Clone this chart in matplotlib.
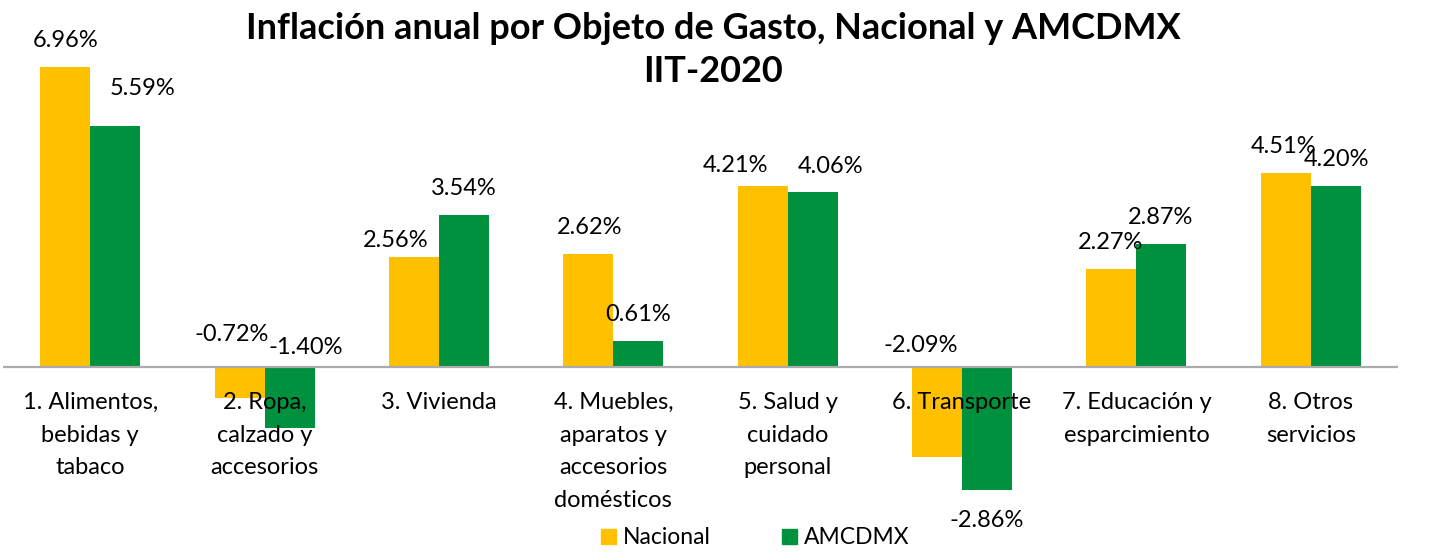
import matplotlib
matplotlib.use("Agg")
import matplotlib.pyplot as plt
from matplotlib.patches import Patch
import numpy as np

plt.rcParams["font.family"] = ["Lato", "DejaVu Sans"]

# data
categories = [
    "1. Alimentos,\nbebidas y\ntabaco",
    "2. Ropa,\ncalzado y\naccesorios",
    "3. Vivienda",
    "4. Muebles,\naparatos y\naccesorios\ndomésticos",
    "5. Salud y\ncuidado\npersonal",
    "6. Transporte",
    "7. Educación y\nesparcimiento",
    "8. Otros\nservicios",
]
nacional = [6.96, -0.72, 2.56, 2.62, 4.21, -2.09, 2.27, 4.51]
amcdmx = [5.59, -1.40, 3.54, 0.61, 4.06, -2.86, 2.87, 4.20]
series_names = ["Nacional", "AMCDMX"]
title = "Inflación anual por Objeto de Gasto, Nacional y AMCDMX\nIIT-2020"

# label offsets (pixels) from each bar tip, as placed in the original
off_nac = [(0, 27), (-8, 64), (-18, 16), (1, 27), (-27, 20), (-16, 112), (-1, 27), (-2, 26)]
off_amc = [(27, 38), (16, 80), (0, 26), (0, 26), (18, 26), (0, -30), (-1, 26), (1, 27)]

YELLOW = "#FFC000"
GREEN = "#00913F"

W, H = 1434, 555
fig = plt.figure(figsize=(W / 100, H / 100), dpi=100)
ax = fig.add_axes([3 / W, (H - 518) / H, 1395 / W, 474 / H])

x = np.arange(len(categories))
bw = 0.2867
ax.bar(x - bw / 2, nacional, width=bw, color=YELLOW, zorder=1)
ax.bar(x + bw / 2, amcdmx, width=bw, color=GREEN, zorder=1)
ax.axhline(0, color="#ABABAB", lw=1.6, zorder=2)

for vals, offs, xs in [(nacional, off_nac, x - bw / 2), (amcdmx, off_amc, x + bw / 2)]:
    for xi, v, (dx, dy) in zip(xs, vals, offs):
        ax.annotate(f"{v:.2f}%", xy=(xi, v), xytext=(dx, dy), textcoords="offset pixels",
                    ha="center", va="center", fontsize=17, color="#000000")

# category names hang from the zero line
for xi, cat in zip(x, categories):
    ax.annotate(cat, xy=(xi, 0), xytext=(0, -25), textcoords="offset pixels",
                ha="center", va="top", fontsize=17, linespacing=1.68, zorder=4,
                annotation_clip=False)

ax.set_xlim(-0.5, len(categories) - 0.5)
ax.set_ylim(-3.5, 7.5)
ax.set_xticks([])
ax.set_yticks([])
for s in ax.spines.values():
    s.set_visible(False)
ax.patch.set_visible(False)

fig.text(713 / W, 1 - 50 / H, title, ha="center", va="center", fontsize=26,
         fontweight="bold", linespacing=1.36)

handles = [Patch(color=YELLOW), Patch(color=GREEN)]
fig.legend(handles, series_names, loc="center", bbox_to_anchor=(755 / W, 1 - 538 / H),
           ncol=2, frameon=False, fontsize=16.5, handlelength=0.66, handleheight=0.66,
           handletextpad=0.3, columnspacing=3.1, borderpad=0, borderaxespad=0)

fig.savefig("out.png", dpi=100)
